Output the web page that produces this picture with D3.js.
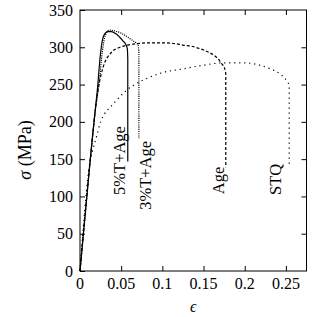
<!DOCTYPE html>
<html>
<head>
<meta charset="utf-8">
<script src="https://cdn.jsdelivr.net/npm/d3@7"></script>
<style>
  body { margin: 0; background: #fff; }
  text { font-family: "Liberation Serif", "DejaVu Serif", serif; fill: #000; }
</style>
</head>
<body>
<div id="chart"></div>
<script>
// strain / stress curves
var solidStrain = [0, 0.0125, 0.0175, 0.0214, 0.0243, 0.0265, 0.029, 0.0336, 0.038, 0.0437, 0.0518, 0.0555, 0.0575, 0.058, 0.058];
var solidStress = [0, 150, 205, 247, 285, 305, 316, 321, 321, 318, 309, 304, 298, 285, 147];

var t3Strain = [0, 0.0125, 0.018, 0.0235, 0.027, 0.03, 0.0356, 0.042, 0.05, 0.056, 0.064, 0.068, 0.0705, 0.0715, 0.0715];
var t3Stress = [0, 150, 210, 255, 293, 313, 323, 322, 319, 315, 309, 306, 303, 295, 178];

var ageStrain = [0, 0.0125, 0.016, 0.02, 0.0227, 0.028, 0.038, 0.0485, 0.058, 0.07, 0.085, 0.1, 0.115, 0.125, 0.137, 0.146, 0.155, 0.163, 0.168, 0.172, 0.1755, 0.177, 0.177];
var ageStress = [0, 150, 190, 228, 248, 273, 293, 300, 303, 305, 306, 306, 305, 303, 301, 298, 294, 289, 284, 278, 272, 265, 139];

var stqStrain = [0, 0.012, 0.015, 0.02, 0.025, 0.03, 0.037, 0.0445, 0.054, 0.065, 0.085, 0.1, 0.125, 0.15, 0.172, 0.2, 0.215, 0.231, 0.242, 0.249, 0.254, 0.254];
var stqStress = [0, 145, 160, 180, 200, 211, 220, 229, 240, 249, 260, 266, 271, 276, 279, 279, 277, 271, 265, 258, 250, 139];

var curveNames = ["5%T+Age", "3%T+Age", "Age", "STQ"];
// where each label starts (strain, stress), text runs upward
var labelStrain = [0.0543, 0.0865, 0.175, 0.2445];
var labelStress = [102, 82, 103, 102];

var xTicks = [0, 0.05, 0.1, 0.15, 0.2, 0.25];
var yTicks = [0, 50, 100, 150, 200, 250, 300, 350];

var W = 316, H = 317;
var m = {left: 80, right: 306.5, top: 10, bottom: 271};

var x = d3.scaleLinear().domain([0, 0.275]).range([m.left, m.right]);
var y = d3.scaleLinear().domain([0, 350]).range([m.bottom, m.top]);

var svg = d3.select("#chart").append("svg")
    .attr("width", W)
    .attr("height", H);

// frame
svg.append("rect")
    .attr("x", m.left).attr("y", m.top)
    .attr("width", m.right - m.left).attr("height", m.bottom - m.top)
    .attr("fill", "none").attr("stroke", "#000").attr("stroke-width", 1);

// ticks pointing inward on all four sides
svg.append("g")
    .attr("transform", "translate(0," + m.bottom + ")")
    .call(d3.axisTop(x).tickValues(xTicks).tickSize(5).tickFormat(""));
svg.append("g")
    .attr("transform", "translate(0," + m.top + ")")
    .call(d3.axisBottom(x).tickValues(xTicks.slice(1)).tickSize(5).tickFormat(""));
svg.append("g")
    .attr("transform", "translate(" + m.left + ",0)")
    .call(d3.axisRight(y).tickValues(yTicks).tickSize(5).tickFormat(""));
svg.append("g")
    .attr("transform", "translate(" + m.right + ",0)")
    .call(d3.axisLeft(y).tickValues(yTicks.slice(1, -1)).tickSize(5).tickFormat(""));

svg.selectAll(".domain").remove();
svg.selectAll(".tick line").attr("stroke", "#000");

// tick labels
svg.selectAll(".xlab")
    .data(xTicks)
  .enter().append("text")
    .attr("class", "xlab")
    .attr("x", function(d) { return x(d); })
    .attr("y", 289)
    .attr("text-anchor", "middle")
    .style("font-size", "16px")
    .text(function(d) { return d; });

svg.selectAll(".ylab")
    .data(yTicks)
  .enter().append("text")
    .attr("class", "ylab")
    .attr("x", 73)
    .attr("y", function(d) { return y(d); })
    .attr("dy", "0.35em")
    .attr("text-anchor", "end")
    .style("font-size", "16px")
    .text(function(d) { return d; });

// axis titles
svg.append("text")
    .attr("x", (m.left + m.right) / 2)
    .attr("y", 312)
    .attr("text-anchor", "middle")
    .style("font-size", "16px")
    .style("font-style", "italic")
    .text("ϵ");

var yTitle = svg.append("text")
    .attr("transform", "translate(31,150) rotate(-90)")
    .attr("text-anchor", "middle")
    .style("font-size", "18px");
yTitle.append("tspan").style("font-style", "italic").text("σ");
yTitle.append("tspan").text("\u00a0(MPa)");

// curves
var line = d3.line()
    .x(function(d) { return x(d[0]); })
    .y(function(d) { return y(d[1]); })
    .curve(d3.curveMonotoneX);

var lineV = d3.line()
    .x(function(d) { return x(d[0]); })
    .y(function(d) { return y(d[1]); });

function pts(xs, ys) { return xs.map(function(v, i) { return [v, ys[i]]; }); }

var curves = [
  {p: pts(stqStrain, stqStress), dash: "1.2,3.8"},
  {p: pts(ageStrain, ageStress), dash: "3,2"},
  {p: pts(t3Strain, t3Stress), dash: "1.1,1.1"},
  {p: pts(solidStrain, solidStress), dash: null}
];

curves.forEach(function(c) {
  var body = c.p.slice(0, c.p.length - 1);
  var drop = c.p.slice(c.p.length - 2);
  svg.append("path")
      .attr("d", line(body) + lineV(drop).replace(/^M[^L]*/, ""))
      .attr("fill", "none")
      .attr("stroke", "#000")
      .attr("stroke-width", 1.2)
      .attr("stroke-dasharray", c.dash);
});

// curve labels
svg.selectAll(".clab")
    .data(curveNames)
  .enter().append("text")
    .attr("class", "clab")
    .attr("transform", function(d, i) {
      return "translate(" + x(labelStrain[i]) + "," + y(labelStress[i]) + ") rotate(-90)";
    })
    .attr("text-anchor", "start")
    .style("font-size", "16.5px")
    .text(function(d) { return d; });
</script>
</body>
</html>
